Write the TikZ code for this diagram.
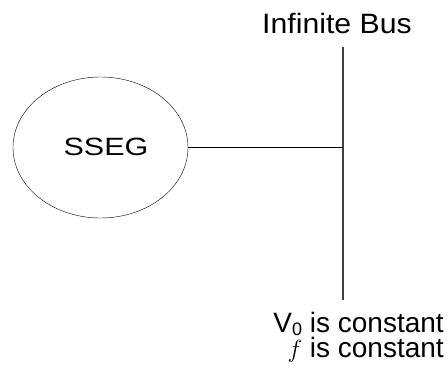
\documentclass[tikz,border=0pt]{standalone}
\usepackage{fontspec}
\setmainfont{Liberation Sans}
\usepackage{tikz}
\usetikzlibrary{positioning}
\usetikzlibrary{shapes.geometric}

\tikzset{
  lbl/.style={font=\fontsize{28}{25}\selectfont, inner sep=0pt},
  gen/.style={draw, ellipse, thin, inner sep=0pt},
  busline/.style={line width=1.1pt, black!75}
}
\newcommand{\lowsub}[1]{\raisebox{-3pt}{\fontsize{18}{18}\selectfont #1}}

\begin{document}
\begin{tikzpicture}[x=1pt,y=-1pt]
\useasboundingbox (0,0) rectangle (448,370);

\node[gen, minimum width=175, minimum height=141] (sseg) at (100.5,147.5) {};
\node[lbl, font=\fontsize{25}{25}\selectfont, xscale=1.22] (ssegtxt) at (106,147) {SSEG};

\coordinate (bustop) at (343,47);
\coordinate (busbot) at (343,300);
\draw[busline] (bustop) -- (busbot);
\draw[thin] (sseg.east) -- (sseg.east -| bustop);

\node[lbl, anchor=base, xscale=1.08] (bus) at (337,33) {Infinite Bus};
\node[lbl, align=right, anchor=north east] (cond) at (444,312)
  {V\lowsub{0} is constant\\$f$ is constant};
\end{tikzpicture}
\end{document}
